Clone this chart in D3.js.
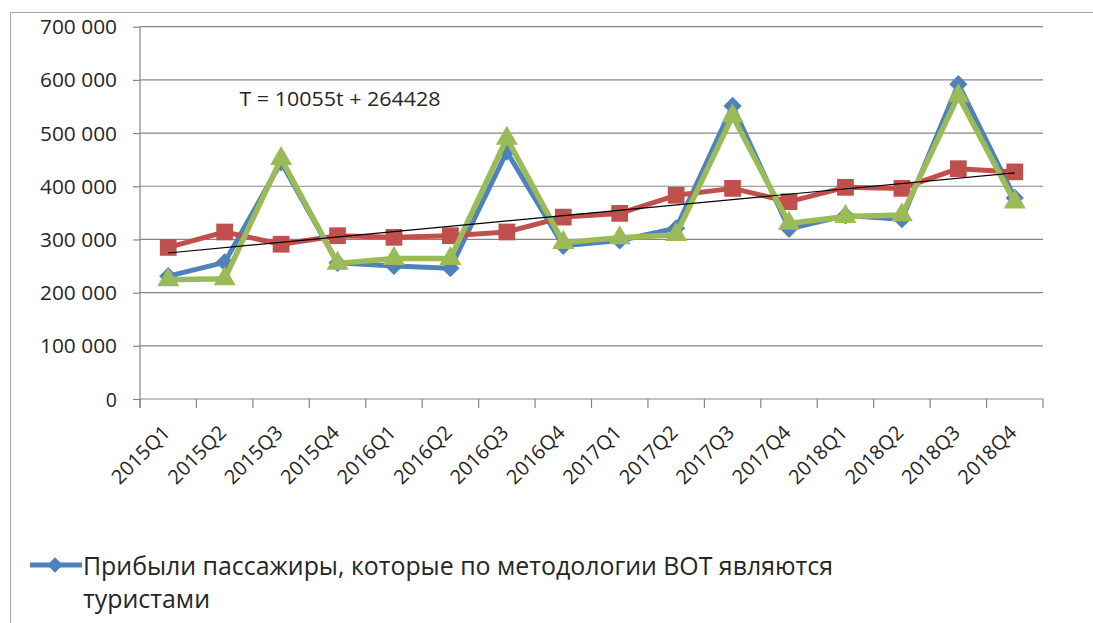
<!DOCTYPE html>
<html>
<head>
<meta charset="utf-8">
<script src="https://cdn.jsdelivr.net/npm/d3@7"></script>
<style>
  html, body { margin: 0; padding: 0; background: #fff; }
  svg { display: block; }
  text { font-family: "Open Sans", "Noto Sans", sans-serif; fill: #262626; }
</style>
</head>
<body>
<svg id="chart" width="1093" height="623"></svg>
<script>
// ---- data ----
const categories = ["2015Q1","2015Q2","2015Q3","2015Q4","2016Q1","2016Q2","2016Q3","2016Q4",
                    "2017Q1","2017Q2","2017Q3","2017Q4","2018Q1","2018Q2","2018Q3","2018Q4"];
const touristArrivals = [231000, 257000, 445000, 256000, 250000, 246000, 465000, 288000,
                         298000, 321000, 551000, 320000, 345000, 338000, 592000, 378000];
const seasonAdjusted  = [285000, 314000, 291000, 307000, 304000, 307000, 314000, 342000,
                         349000, 383000, 396000, 371000, 398000, 396000, 433000, 427000];
const modelValues     = [224000, 226000, 452000, 255000, 264000, 264000, 490000, 294000,
                         303000, 309000, 532000, 330000, 343000, 346000, 570000, 370000];
const yTickValues = [0, 100000, 200000, 300000, 400000, 500000, 600000, 700000];
const yTickLabels = ["0", "100 000", "200 000", "300 000", "400 000", "500 000", "600 000", "700 000"];
const trendSlope = 10055;
const trendIntercept = 264428;
const trendLabel = "T = 10055t + 264428";
const legendLines = ["Прибыли пассажиры, которые по методологии ВОТ являются", "туристами"];

// ---- layout ----
const svg = d3.select("#chart");
const plotLeft = 140, plotRight = 1043, plotTop = 26.7, plotBottom = 399;
const x = d3.scaleBand().domain(categories).range([plotLeft, plotRight]).paddingInner(0).paddingOuter(0);
const y = d3.scaleLinear().domain([0, 700000]).range([plotBottom, plotTop]);
const cx = c => x(c) + x.bandwidth() / 2;

// outer frame
svg.append("path").attr("d", "M10.5,623 L10.5,12.5 L1093,12.5")
  .attr("fill", "none").attr("stroke", "#a6a6a6").attr("stroke-width", 1);

// gridlines + y axis ticks
const yAxis = d3.axisLeft(y).tickValues(yTickValues).tickSize(7)
  .tickFormat((d, i) => yTickLabels[i]);
const gy = svg.append("g").attr("transform", `translate(${plotLeft},0)`).call(yAxis);
gy.select(".domain").remove();
gy.selectAll(".tick line").attr("stroke", "#868686").attr("stroke-width", 1.2);
gy.selectAll(".tick text")
  .attr("x", -23).attr("dy", null).attr("y", 7)
  .style("font-size", "19.5px").attr("fill", "#262626")
  .each(function(d, i) {
    if (yTickLabels[i].length === 7) d3.select(this).attr("textLength", 77).attr("lengthAdjust", "spacingAndGlyphs");
  });
svg.append("g").selectAll("line").data(yTickValues.filter(v => v > 0)).join("line")
  .attr("x1", plotLeft).attr("x2", plotRight)
  .attr("y1", d => y(d)).attr("y2", d => y(d))
  .attr("stroke", "#868686").attr("stroke-width", 1.2);

// y axis line
svg.append("line").attr("x1", plotLeft).attr("x2", plotLeft).attr("y1", y(700000)).attr("y2", plotBottom + 9)
  .attr("stroke", "#868686").attr("stroke-width", 1.2);
// x axis line
svg.append("line").attr("x1", plotLeft).attr("x2", plotRight).attr("y1", plotBottom).attr("y2", plotBottom)
  .attr("stroke", "#868686").attr("stroke-width", 1.2);
// x ticks at band boundaries
const edges = categories.map(c => x(c)).concat([x(categories[categories.length - 1]) + x.bandwidth()]);
svg.append("g").selectAll("line").data(edges).join("line")
  .attr("x1", d => d).attr("x2", d => d).attr("y1", plotBottom).attr("y2", plotBottom + 9)
  .attr("stroke", "#868686").attr("stroke-width", 1.2);

// x labels rotated
svg.append("g").selectAll("text").data(categories).join("text")
  .attr("transform", d => `translate(${cx(d) + 3},${plotBottom + 35}) rotate(-45)`)
  .attr("text-anchor", "end")
  .style("font-size", "20px")
  .text(d => d);

// ---- series ----
const line = d3.line().x((d, i) => cx(categories[i])).y(d => y(d));
const series = [
  { values: touristArrivals, color: "#4F81BD", marker: d3.symbolSquare, size: 165, rot: 45, width: 5 },
  { values: seasonAdjusted,  color: "#C0504D", marker: d3.symbolSquare, size: 280, rot: 0,  width: 5 },
  { values: modelValues,     color: "#9BBB59", marker: d3.symbolTriangle, size: 210, rot: 0, width: 5.5 }
];
series.forEach(s => {
  svg.append("path").datum(s.values).attr("d", line)
    .attr("fill", "none").attr("stroke", s.color).attr("stroke-width", s.width)
    .attr("stroke-linejoin", "round");
  svg.append("g").selectAll("path").data(s.values).join("path")
    .attr("transform", (d, i) => `translate(${cx(categories[i])},${y(d)}) rotate(${s.rot})`)
    .attr("d", d3.symbol().type(s.marker).size(s.size))
    .attr("fill", s.color);
});

// trend line (linear, t = 1..16)
const tFirst = 1, tLast = categories.length;
svg.append("line")
  .attr("x1", cx(categories[0])).attr("y1", y(trendSlope * tFirst + trendIntercept))
  .attr("x2", cx(categories[tLast - 1])).attr("y2", y(trendSlope * tLast + trendIntercept))
  .attr("stroke", "#000").attr("stroke-width", 1.2);

svg.append("text").attr("x", 239.5).attr("y", 106)
  .style("font-size", "19.5px").attr("textLength", 201).attr("lengthAdjust", "spacingAndGlyphs")
  .text(trendLabel);

// ---- legend (only first entry visible) ----
const lg = svg.append("g");
lg.append("line").attr("x1", 30).attr("x2", 82).attr("y1", 565).attr("y2", 565)
  .attr("stroke", "#4F81BD").attr("stroke-width", 5);
lg.append("path").attr("transform", "translate(55,565) rotate(45)")
  .attr("d", d3.symbol().type(d3.symbolSquare).size(120)).attr("fill", "#4F81BD");
lg.append("text").attr("x", 83).attr("y", 575).style("font-size", "25.5px")
  .attr("textLength", 750).attr("lengthAdjust", "spacingAndGlyphs").text(legendLines[0]);
lg.append("text").attr("x", 83).attr("y", 608).style("font-size", "25.5px")
  .attr("textLength", 127).attr("lengthAdjust", "spacingAndGlyphs").text(legendLines[1]);
</script>
</body>
</html>
